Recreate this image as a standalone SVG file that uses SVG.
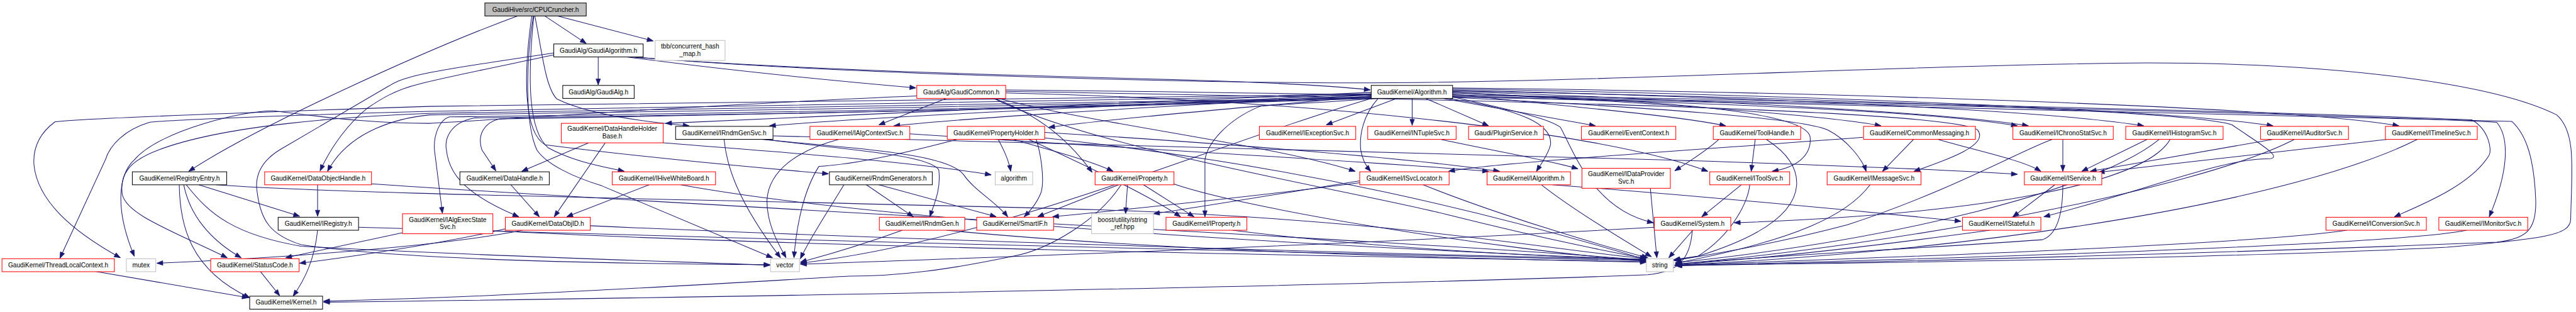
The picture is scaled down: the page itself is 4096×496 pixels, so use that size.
<svg xmlns="http://www.w3.org/2000/svg" width="4096" height="496" viewBox="0 0 4096 496">
<style>
.n rect{fill:#fff;stroke-width:1.3}
.b rect{stroke:#000}
.r rect{stroke:#ff0000}
.g rect{stroke:#bfbfbf}
.root rect{fill:#bfbfbf;stroke:#000}
text{font-family:"Liberation Sans",Arial,sans-serif;font-size:12.8px;text-anchor:middle;fill:#000}
.e path{fill:none;stroke:#191970;stroke-width:1.3;marker-end:url(#a)}
</style>
<defs>
<marker id="a" markerUnits="userSpaceOnUse" markerWidth="12" markerHeight="9" refX="12" refY="4.5" orient="auto" overflow="visible"><path d="M0,0 L12,4.5 L0,9 z" fill="#191970" stroke="#191970" stroke-width="1"/></marker>
</defs>
<rect width="4096" height="496" fill="#fff"/>
<g transform="scale(0.794)">
<g id="edges" class="e">
<path d="M1091,32 L1174,87"/>
<path d="M1117,32 L1308,82"/>
<path d="M1036,32 C860,97 520,250 378,343"/>
<path d="M1071,32 C1085,100 1092,175 1115,198 C1180,230 1300,245 1380,252"/>
<path d="M1068,32 C1052,130 1052,250 1075,300 C1095,330 1150,355 1205,372 L1547,516"/>
<path d="M1065,32 C1048,150 1048,265 1092,290 C1250,310 1450,330 1659,348"/>
<path d="M1069,32 C1056,160 1058,262 1098,296 C1150,325 1215,335 1250,343"/>
<path d="M1198,114 L1198,170"/>
<path d="M1255,114 C1450,140 1650,160 1834,176"/>
<path d="M1262,114 C1600,140 2000,150 2300,158 C2500,163 2650,170 2744,180"/>
<path d="M1270,114 C1700,150 2400,165 2700,166 C3200,166 3800,130 4300,126 C4700,126 5000,170 5120,230 C5160,265 5150,340 5148,440 C5146,470 5100,478 4900,495 C4500,515 3900,525 3353,531"/>
<path d="M1109,106 C980,125 880,140 830,152 C800,160 790,165 779,172 L560,300 C520,325 510,355 515,385 C522,440 540,470 603,490 C800,520 1200,528 1542,530"/>
<path d="M1109,110 C990,135 890,155 840,168 C790,180 760,200 735,217 C700,245 665,290 641,342"/>
<path d="M1895,197 L1760,250"/>
<path d="M1991,197 C2080,230 2140,280 2187,345"/>
<path d="M2000,197 C2200,250 2550,290 2714,343"/>
<path d="M2014,186 C2600,200 3200,260 3420,343"/>
<path d="M2014,183 C3000,200 3900,220 3960,260 C3985,290 3900,320 3833,343"/>
<path d="M2014,180 C3000,190 3800,210 4040,252"/>
<path d="M1990,197 C2200,300 2700,380 2900,430 C3100,480 3250,510 3297,517"/>
<path d="M1836,192 C1400,210 1000,240 860,247 C768,247 686,240 549,222 C494,220 320,260 269,320 C236,350 230,420 269,513"/>
<path d="M2797,197 L2656,250"/>
<path d="M2828,197 L2828,251"/>
<path d="M2855,197 L2981,252"/>
<path d="M2890,197 L3195,252"/>
<path d="M2909,188 C3150,215 3350,230 3456,252"/>
<path d="M2909,185 C3300,205 3650,230 3767,252"/>
<path d="M2909,183 C3400,200 3900,225 4062,252"/>
<path d="M2909,180 C3500,195 4100,220 4293,252"/>
<path d="M2909,178 C3600,190 4350,220 4552,252"/>
<path d="M2909,176 C3700,185 4600,215 4804,252"/>
<path d="M2746,185 C2300,205 1800,225 1333,247"/>
<path d="M2746,188 C2300,210 1800,230 1541,252"/>
<path d="M2746,190 C2400,210 2000,230 1790,252"/>
<path d="M2746,192 C2500,215 2250,235 2100,255"/>
<path d="M2901,197 C3050,220 3110,250 3105,290 C3100,310 3085,330 3077,343"/>
<path d="M2760,197 C2730,230 2722,270 2725,300 C2728,320 2736,333 2745,343"/>
<path d="M2909,186 C3300,200 3620,220 3625,275 C3628,310 3600,335 3549,343"/>
<path d="M2909,195 C3300,215 3600,235 3660,260 C3700,280 3730,320 3737,343"/>
<path d="M2746,193 C2200,215 1500,230 1000,238 C970,245 955,270 965,300 L993,342"/>
<path d="M2746,195 C2000,215 1200,225 860,230 C800,236 700,260 656,343"/>
<path d="M2746,196 C2000,220 1200,230 900,234 C880,240 868,270 870,300 L886,427"/>
<path d="M2746,197 C2000,222 1300,232 950,236 C900,245 890,280 894,300 C898,340 920,385 1039,434"/>
<path d="M2746,190 C2000,205 1200,215 860,223 C600,230 330,240 299,245 C250,260 220,290 211,320 L120,517"/>
<path d="M2746,188 C2000,200 1200,208 860,213 C500,225 150,238 110,244 C75,270 66,300 68,330 C75,400 140,460 241,516"/>
<path d="M2746,195 C2000,210 1200,222 860,227 C700,233 450,250 318,300 C258,322 239,350 245,390 C255,430 340,460 455,516"/>
<path d="M2760,197 C2650,205 2540,210 2523,213 C2457,240 2418,287 2413,320 L2413,434"/>
<path d="M2746,197 C2400,300 2000,480 1603,527"/>
<path d="M2909,194 C3000,215 3100,235 3125,255 C3150,300 3190,420 3311,446"/>
<path d="M2909,190 C3600,200 4600,225 4950,240 C4985,260 4990,300 4985,310 C4950,370 4850,410 4795,434"/>
<path d="M2909,192 C3600,205 4700,228 5000,245 C5025,275 5025,340 4985,434"/>
<path d="M2909,194 C3700,210 4800,232 5030,243 C5060,270 5075,320 5078,400 C5080,460 5060,478 5000,485 C4500,505 3800,525 3356,532"/>
<path d="M2909,182 C3800,200 4400,225 4470,250 C4520,285 4580,318 4540,318 C4450,318 4300,380 4093,434"/>
<path d="M1179,286 L1045,343"/>
<path d="M1212,286 L1110,434"/>
<path d="M1328,286 C1500,300 1800,320 1985,350"/>
<path d="M1530,279 C1700,300 1860,310 1880,340 C1885,380 1870,410 1862,434"/>
<path d="M1525,279 C1750,300 1900,310 1930,350 C1950,380 1995,405 2018,434"/>
<path d="M1450,279 C1455,330 1475,400 1563,516"/>
<path d="M1548,272 C2200,290 3000,310 3400,322 C3700,332 3900,340 4040,349"/>
<path d="M1822,268 C2300,300 2700,320 2981,343"/>
<path d="M1680,279 C1600,300 1540,340 1536,400 C1535,450 1560,490 1574,516"/>
<path d="M1999,279 C2010,300 2020,320 2024,343"/>
<path d="M2029,279 C2100,300 2180,320 2229,343"/>
<path d="M2060,279 C2150,320 2300,390 2364,434"/>
<path d="M2075,279 C2085,310 2092,360 2085,385 C2075,410 2060,425 2051,434"/>
<path d="M2092,265 C2500,290 2850,320 3003,343"/>
<path d="M2092,276 C2600,330 3000,430 3297,520"/>
<path d="M1917,279 C1800,310 1700,330 1640,333 C1610,380 1595,450 1590,516"/>
<path d="M2885,279 C2980,300 3100,320 3160,338"/>
<path d="M3442,279 C3420,300 3380,325 3354,342"/>
<path d="M3515,279 L3507,343"/>
<path d="M3537,279 C3570,300 3600,330 3598,370 C3595,420 3540,470 3400,513 L3352,521"/>
<path d="M3731,275 C3400,300 3000,325 2901,343"/>
<path d="M3832,279 L3770,343"/>
<path d="M3881,279 C3950,300 4050,320 4087,343"/>
<path d="M4131,279 L4131,343"/>
<path d="M4110,279 C4050,300 3905,383 3700,450 C3550,490 3420,510 3353,522"/>
<path d="M4300,279 L4169,343"/>
<path d="M4346,279 C4300,360 4017,427 3473,446"/>
<path d="M4324,279 C4200,380 3800,480 3355,526"/>
<path d="M4552,279 L4186,343"/>
<path d="M4595,279 C4400,380 3800,490 3355,529"/>
<path d="M4781,279 L4202,345"/>
<path d="M4841,279 C4600,400 4000,500 3355,531"/>
<path d="M398,370 L600,433"/>
<path d="M368,370 C380,430 420,480 483,516"/>
<path d="M359,370 C360,450 380,540 500,596"/>
<path d="M373,370 C420,430 470,470 603,493 C900,510 1300,522 1542,531"/>
<path d="M433,370 C700,390 1500,400 2200,420 C2800,440 3100,500 3297,518"/>
<path d="M636,370 L636,433"/>
<path d="M744,368 C1500,420 2800,480 3297,521"/>
<path d="M1023,370 L1080,434"/>
<path d="M1300,370 L1135,434"/>
<path d="M1363,370 C1800,450 2800,500 3297,520"/>
<path d="M1735,370 L1829,434"/>
<path d="M1760,370 L1995,434"/>
<path d="M1690,370 C1660,420 1620,480 1603,518"/>
<path d="M2240,370 L2078,434"/>
<path d="M2258,370 L2254,428"/>
<path d="M2290,370 L2391,434"/>
<path d="M2245,370 C2200,440 2100,500 2029,513 C1900,540 1800,553 1700,553 C1400,570 1000,595 648,603"/>
<path d="M2350,368 C2500,420 3000,500 3297,523"/>
<path d="M2723,366 C2500,395 2250,420 2108,434"/>
<path d="M2723,362 C2550,390 2400,415 2310,428"/>
<path d="M2850,370 C3000,430 3200,490 3300,516"/>
<path d="M3087,370 C3150,420 3250,480 3307,514"/>
<path d="M3109,370 C3500,400 3800,430 3927,443"/>
<path d="M3305,377 L3318,516"/>
<path d="M3487,370 L3408,434"/>
<path d="M3504,370 C3501,400 3473,467 3400,513 L3352,520"/>
<path d="M3745,370 C3700,430 3600,480 3355,527"/>
<path d="M4115,370 L4031,434"/>
<path d="M4131,370 C4131,430 4120,470 4090,480 C3800,500 3500,515 3356,529"/>
<path d="M636,461 C630,520 610,560 587,593"/>
<path d="M718,455 C1500,480 2800,510 3297,522"/>
<path d="M806,466 L572,516"/>
<path d="M987,462 C1600,495 2800,515 3297,524"/>
<path d="M1047,461 C900,490 600,515 314,527"/>
<path d="M1012,458 C900,485 700,515 600,527"/>
<path d="M1182,452 C1800,480 2800,510 3297,519"/>
<path d="M1807,461 C1700,500 1620,520 1603,525"/>
<path d="M1895,461 C2300,500 2800,515 3297,525"/>
<path d="M2468,461 C2700,490 3000,510 3297,521"/>
<path d="M3390,461 L3342,516"/>
<path d="M3389,461 C3385,520 3360,545 3300,550 C2800,570 1500,595 648,605"/>
<path d="M3313,455 C2700,490 2000,515 1603,529"/>
<path d="M3985,461 C3700,500 3500,520 3356,530"/>
<path d="M4700,461 C4500,490 3800,515 3356,531"/>
<path d="M4940,461 C4800,490 4000,515 3356,532"/>
<path d="M189,543 L497,596"/>
<path d="M521,543 L560,592"/>
</g>
<g id="n_cpu" class="n root"><rect x="971" y="6" width="203" height="26"/><text x="1072.5" y="23.5">GaudiHive/src/CPUCruncher.h</text></g>
<g id="n_gaudialgorithm" class="n b"><rect x="1109" y="88" width="179" height="26"/><text x="1198.5" y="105.5">GaudiAlg/GaudiAlgorithm.h</text></g>
<g id="n_tbb" class="n g"><rect x="1312" y="81" width="140" height="40"/><text x="1382" y="97">tbb/concurrent_hash</text><text x="1382" y="112">_map.h</text></g>
<g id="n_gaudialg" class="n b"><rect x="1127" y="171" width="143" height="26"/><text x="1198.5" y="188.5">GaudiAlg/GaudiAlg.h</text></g>
<g id="n_gaudicommon" class="n r"><rect x="1836" y="171" width="178" height="26"/><text x="1925" y="188.5">GaudiAlg/GaudiCommon.h</text></g>
<g id="n_algorithm_h" class="n b"><rect x="2746" y="171" width="163" height="26"/><text x="2827.5" y="188.5">GaudiKernel/Algorithm.h</text></g>
<g id="n_dhhb" class="n r"><rect x="1124" y="247" width="204" height="39"/><text x="1226" y="262.5">GaudiKernel/DataHandleHolder</text><text x="1226" y="277.5">Base.h</text></g>
<g id="n_irndmgensvc" class="n b"><rect x="1353" y="253" width="195" height="26"/><text x="1450.5" y="270.5">GaudiKernel/IRndmGenSvc.h</text></g>
<g id="n_ialgcontextsvc" class="n r"><rect x="1622" y="253" width="200" height="26"/><text x="1722" y="270.5">GaudiKernel/IAlgContextSvc.h</text></g>
<g id="n_propertyholder" class="n r"><rect x="1897" y="253" width="195" height="26"/><text x="1994.5" y="270.5">GaudiKernel/PropertyHolder.h</text></g>
<g id="n_iexceptionsvc" class="n r"><rect x="2522" y="253" width="193" height="26"/><text x="2618.5" y="270.5">GaudiKernel/IExceptionSvc.h</text></g>
<g id="n_intuplesvc" class="n r"><rect x="2739" y="253" width="177" height="26"/><text x="2827.5" y="270.5">GaudiKernel/INTupleSvc.h</text></g>
<g id="n_pluginservice" class="n r"><rect x="2941" y="253" width="150" height="26"/><text x="3016" y="270.5">Gaudi/PluginService.h</text></g>
<g id="n_eventcontext" class="n r"><rect x="3167" y="253" width="189" height="26"/><text x="3261.5" y="270.5">GaudiKernel/EventContext.h</text></g>
<g id="n_toolhandle" class="n r"><rect x="3431" y="253" width="175" height="26"/><text x="3518.5" y="270.5">GaudiKernel/ToolHandle.h</text></g>
<g id="n_commonmessaging" class="n r"><rect x="3732" y="253" width="224" height="26"/><text x="3844" y="270.5">GaudiKernel/CommonMessaging.h</text></g>
<g id="n_ichronostatsvc" class="n r"><rect x="4031" y="253" width="201" height="26"/><text x="4131.5" y="270.5">GaudiKernel/IChronoStatSvc.h</text></g>
<g id="n_ihistogramsvc" class="n r"><rect x="4257" y="253" width="195" height="26"/><text x="4354.5" y="270.5">GaudiKernel/IHistogramSvc.h</text></g>
<g id="n_iauditorsvc" class="n r"><rect x="4527" y="253" width="176" height="26"/><text x="4615" y="270.5">GaudiKernel/IAuditorSvc.h</text></g>
<g id="n_itimelinesvc" class="n r"><rect x="4777" y="253" width="184" height="26"/><text x="4869" y="270.5">GaudiKernel/ITimelineSvc.h</text></g>
<g id="n_registryentry" class="n b"><rect x="265" y="344" width="189" height="26"/><text x="359.5" y="361.5">GaudiKernel/RegistryEntry.h</text></g>
<g id="n_dataobjecthandle" class="n r"><rect x="530" y="344" width="214" height="26"/><text x="637" y="361.5">GaudiKernel/DataObjectHandle.h</text></g>
<g id="n_datahandle" class="n b"><rect x="921" y="344" width="179" height="26"/><text x="1010.5" y="361.5">GaudiKernel/DataHandle.h</text></g>
<g id="n_ihivewhiteboard" class="n r"><rect x="1226" y="344" width="207" height="26"/><text x="1329.5" y="361.5">GaudiKernel/IHiveWhiteBoard.h</text></g>
<g id="n_rndmgenerators" class="n b"><rect x="1661" y="344" width="206" height="26"/><text x="1764" y="361.5">GaudiKernel/RndmGenerators.h</text></g>
<g id="n_algorithm" class="n g"><rect x="1993" y="344" width="75" height="26"/><text x="2030.5" y="361.5">algorithm</text></g>
<g id="n_property" class="n r"><rect x="2193" y="344" width="158" height="26"/><text x="2272" y="361.5">GaudiKernel/Property.h</text></g>
<g id="n_isvclocator" class="n r"><rect x="2723" y="344" width="179" height="26"/><text x="2812.5" y="361.5">GaudiKernel/ISvcLocator.h</text></g>
<g id="n_ialgorithm" class="n r"><rect x="2978" y="344" width="167" height="26"/><text x="3061.5" y="361.5">GaudiKernel/IAlgorithm.h</text></g>
<g id="n_idataprovidersvc" class="n r"><rect x="3168" y="337" width="177" height="40"/><text x="3256.5" y="353">GaudiKernel/IDataProvider</text><text x="3256.5" y="368">Svc.h</text></g>
<g id="n_itoolsvc" class="n r"><rect x="3424" y="344" width="160" height="26"/><text x="3504" y="361.5">GaudiKernel/IToolSvc.h</text></g>
<g id="n_imessagesvc" class="n r"><rect x="3659" y="344" width="188" height="26"/><text x="3753" y="361.5">GaudiKernel/IMessageSvc.h</text></g>
<g id="n_iservice" class="n r"><rect x="4054" y="344" width="155" height="26"/><text x="4131.5" y="361.5">GaudiKernel/IService.h</text></g>
<g id="n_iregistry" class="n b"><rect x="557" y="435" width="161" height="26"/><text x="637.5" y="452.5">GaudiKernel/IRegistry.h</text></g>
<g id="n_ialgexecstatesvc" class="n r"><rect x="806" y="428" width="181" height="40"/><text x="896.5" y="444">GaudiKernel/IAlgExecState</text><text x="896.5" y="459">Svc.h</text></g>
<g id="n_dataobjid" class="n r"><rect x="1012" y="435" width="170" height="26"/><text x="1097" y="452.5">GaudiKernel/DataObjID.h</text></g>
<g id="n_irndmgen" class="n r"><rect x="1761" y="435" width="171" height="26"/><text x="1846.5" y="452.5">GaudiKernel/IRndmGen.h</text></g>
<g id="n_smartif" class="n r"><rect x="1956" y="435" width="154" height="26"/><text x="2033" y="452.5">GaudiKernel/SmartIF.h</text></g>
<g id="n_string_ref" class="n g"><rect x="2186" y="428" width="124" height="40"/><text x="2248" y="444">boost/utility/string</text><text x="2248" y="459">_ref.hpp</text></g>
<g id="n_iproperty" class="n r"><rect x="2335" y="435" width="162" height="26"/><text x="2416" y="452.5">GaudiKernel/IProperty.h</text></g>
<g id="n_system" class="n r"><rect x="3313" y="435" width="153" height="26"/><text x="3389.5" y="452.5">GaudiKernel/System.h</text></g>
<g id="n_istateful" class="n r"><rect x="3930" y="435" width="157" height="26"/><text x="4008.5" y="452.5">GaudiKernel/IStateful.h</text></g>
<g id="n_iconversionsvc" class="n r"><rect x="4658" y="435" width="201" height="26"/><text x="4758.5" y="452.5">GaudiKernel/IConversionSvc.h</text></g>
<g id="n_imonitorsvc" class="n r"><rect x="4884" y="435" width="178" height="26"/><text x="4973" y="452.5">GaudiKernel/IMonitorSvc.h</text></g>
<g id="n_threadlocalcontext" class="n r"><rect x="4" y="518" width="225" height="26"/><text x="116.5" y="535">GaudiKernel/ThreadLocalContext.h</text></g>
<g id="n_mutex" class="n g"><rect x="253" y="518" width="59" height="26"/><text x="282.5" y="535">mutex</text></g>
<g id="n_statuscode" class="n r"><rect x="422" y="518" width="177" height="26"/><text x="510.5" y="535">GaudiKernel/StatusCode.h</text></g>
<g id="n_vector" class="n g"><rect x="1543" y="518" width="58" height="26"/><text x="1572" y="535">vector</text></g>
<g id="n_string" class="n g"><rect x="3297" y="518" width="54" height="26"/><text x="3324" y="535">string</text></g>
<g id="n_kernel" class="n b"><rect x="500" y="593" width="146" height="26"/><text x="573" y="610">GaudiKernel/Kernel.h</text></g>
</g>
</svg>
